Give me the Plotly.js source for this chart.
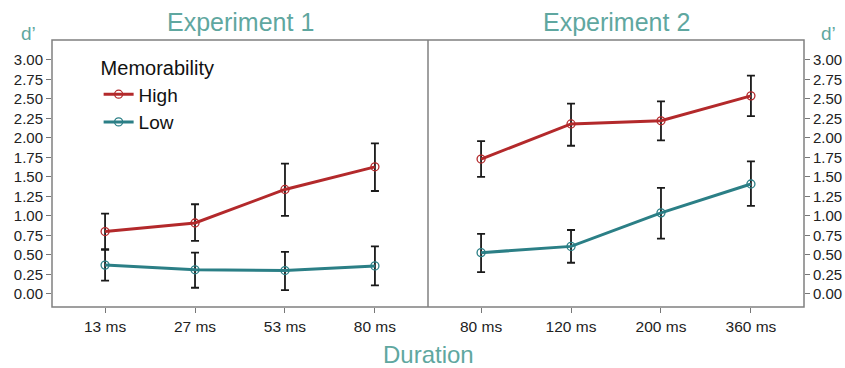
<!DOCTYPE html>
<html>
<head>
<meta charset="utf-8">
<script src="https://cdn.plot.ly/plotly-3.0.1.min.js"></script>
<style>html,body{margin:0;padding:0;background:#fff;}#chart{width:845px;height:368px;}</style>
</head>
<body>
<div id="chart"></div>
<script>
// Experiment 1
const exp1Durations = ['13 ms', '27 ms', '53 ms', '80 ms'];
const exp1High = [0.80, 0.91, 1.34, 1.63];
const exp1HighUpper = [1.03, 1.15, 1.67, 1.93];
const exp1HighLower = [0.57, 0.68, 1.00, 1.32];
const exp1Low = [0.37, 0.31, 0.30, 0.36];
const exp1LowUpper = [0.57, 0.53, 0.54, 0.61];
const exp1LowLower = [0.17, 0.08, 0.05, 0.11];

// Experiment 2
const exp2Durations = ['80 ms', '120 ms', '200 ms', '360 ms'];
const exp2High = [1.73, 2.18, 2.22, 2.54];
const exp2HighUpper = [1.96, 2.44, 2.47, 2.80];
const exp2HighLower = [1.50, 1.90, 1.97, 2.28];
const exp2Low = [0.53, 0.61, 1.04, 1.41];
const exp2LowUpper = [0.77, 0.82, 1.36, 1.70];
const exp2LowLower = [0.28, 0.40, 0.71, 1.13];

const yTickVals = [0, 0.25, 0.5, 0.75, 1, 1.25, 1.5, 1.75, 2, 2.25, 2.5, 2.75, 3];
const yTickText = ['0.00','0.25','0.50','0.75','1.00','1.25','1.50','1.75','2.00','2.25','2.50','2.75','3.00'];

const RED = '#b3292b';
const TEAL = '#2b7f86';
const TITLE = '#5fa7a0';
const FONT = 'Liberation Sans, Arial, sans-serif';

function diff(a, b) { return a.map((v, i) => Math.abs(v - b[i])); }

function trace(x, y, up, lo, color, name, xa, ya, show) {
  return {
    type: 'scatter', mode: 'lines+markers', x: x, y: y, name: name,
    xaxis: xa, yaxis: ya, legendgroup: name, showlegend: show,
    line: {color: color, width: 3},
    marker: {symbol: 'circle-open', size: 8, color: color, line: {width: 1.3, color: color}},
    error_y: {type: 'data', symmetric: false, array: diff(up, y), arrayminus: diff(y, lo),
      color: '#1a1a1a', thickness: 1.8, width: 4}
  };
}

const data = [
  trace(exp1Durations, exp1High, exp1HighUpper, exp1HighLower, RED, 'High', 'x', 'y', true),
  trace(exp1Durations, exp1Low, exp1LowUpper, exp1LowLower, TEAL, 'Low', 'x', 'y', true),
  trace(exp2Durations, exp2High, exp2HighUpper, exp2HighLower, RED, 'High', 'x2', 'y2', false),
  trace(exp2Durations, exp2Low, exp2LowUpper, exp2LowLower, TEAL, 'Low', 'x2', 'y2', false)
];

const yBase = {
  range: [-0.167, 3.256], tickvals: yTickVals, ticktext: yTickText,
  ticks: 'outside', ticklen: 5, tickwidth: 1, tickcolor: '#777',
  showgrid: false, zeroline: false, showline: false,
  tickfont: {family: FONT, size: 15, color: '#222'}, fixedrange: true
};
const xBase = {
  type: 'category', range: [-0.59, 3.59],
  ticks: 'outside', ticklen: 5, tickwidth: 1, tickcolor: '#777',
  showgrid: false, zeroline: false, showline: false,
  tickfont: {family: FONT, size: 15.5, color: '#222'}
};

const layout = {
  width: 845, height: 368,
  margin: {l: 52, r: 41, t: 40, b: 61},
  paper_bgcolor: '#fff', plot_bgcolor: '#fff',
  font: {family: FONT},
  xaxis: Object.assign({}, xBase, {domain: [0, 0.5], anchor: 'y'}),
  xaxis2: Object.assign({}, xBase, {domain: [0.5, 1], anchor: 'y2'}),
  yaxis: Object.assign({}, yBase, {anchor: 'x', side: 'left'}),
  yaxis2: Object.assign({}, yBase, {anchor: 'x2', side: 'right'}),
  showlegend: true,
  legend: {
    x: 0.062, y: 0.965, xanchor: 'left', yanchor: 'top',
    bgcolor: 'rgba(0,0,0,0)',
    title: {text: 'Memorability', font: {family: FONT, size: 20, color: '#111'}},
    font: {family: FONT, size: 19, color: '#111'},
    tracegroupgap: 0, itemwidth: 30
  },
  shapes: [
    {type: 'rect', xref: 'paper', yref: 'paper', x0: 0, x1: 1, y0: 0, y1: 1,
     line: {color: '#808080', width: 1.5}},
    {type: 'line', xref: 'paper', yref: 'paper', x0: 0.5, x1: 0.5, y0: 0, y1: 1,
     line: {color: '#808080', width: 1.5}}
  ],
  annotations: [
    {text: 'Experiment 1', xref: 'paper', yref: 'paper', x: 0.25, y: 1, xanchor: 'center', yanchor: 'bottom', yshift: 2,
     showarrow: false, font: {family: FONT, size: 25, color: TITLE}},
    {text: 'Experiment 2', xref: 'paper', yref: 'paper', x: 0.75, y: 1, xanchor: 'center', yanchor: 'bottom', yshift: 2,
     showarrow: false, font: {family: FONT, size: 25, color: TITLE}},
    {text: 'd’', xref: 'paper', yref: 'paper', x: 0, y: 1, xanchor: 'center', yanchor: 'middle',
     xshift: -24, yshift: 7, showarrow: false, font: {family: FONT, size: 19, color: TITLE}},
    {text: 'd’', xref: 'paper', yref: 'paper', x: 1, y: 1, xanchor: 'center', yanchor: 'middle',
     xshift: 24, yshift: 7, showarrow: false, font: {family: FONT, size: 19, color: TITLE}},
    {text: 'Duration', xref: 'paper', yref: 'paper', x: 0.5, y: 0, xanchor: 'center', yanchor: 'middle',
     yshift: -47, showarrow: false, font: {family: FONT, size: 24, color: TITLE}}
  ]
};

Plotly.newPlot('chart', data, layout, {displayModeBar: false, staticPlot: true});
</script>
</body>
</html>
